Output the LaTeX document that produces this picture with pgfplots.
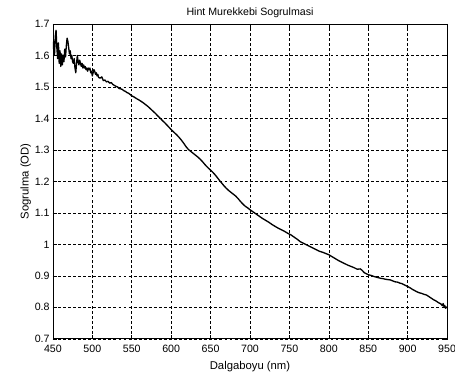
\documentclass[border=0pt]{standalone}
\usepackage{pgfplots}
\pgfplotsset{compat=1.18}
\usepackage{fontspec}
\setmainfont{Liberation Sans}
\pgfplotstableread{
x y
450 1.620
451 1.645
452 1.600
453 1.660
454 1.680
455 1.625
456 1.590
457 1.640
458 1.575
459 1.615
460 1.565
461 1.605
462 1.570
463 1.600
464 1.580
465 1.620
466 1.595
467 1.630
468 1.655
469 1.645
470 1.625
471 1.605
472 1.615
473 1.590
474 1.600
475 1.580
476 1.575
477 1.590
478 1.560
479 1.545
480 1.575
481 1.600
482 1.580
483 1.570
484 1.585
485 1.575
486 1.565
487 1.575
488 1.560
489 1.570
490 1.560
491 1.565
492 1.555
493 1.560
494 1.550
495 1.560
496 1.555
497 1.560
498 1.545
499 1.550
500 1.535
501 1.545
502 1.555
503 1.550
504 1.540
505 1.545
506 1.535
507 1.540
508 1.530
510 1.528
512 1.532
514 1.520
516 1.522
518 1.516
520 1.518
522 1.512
524 1.514
526 1.508
528 1.505
530 1.502
532 1.500
534 1.495
536 1.494
538 1.492
540 1.488
542 1.486
544 1.482
546 1.480
548 1.476
550 1.472
553 1.468
556 1.463
559 1.459
562 1.454
565 1.449
568 1.443
571 1.437
574 1.430
577 1.423
580 1.416
583 1.408
586 1.401
589 1.393
592 1.386
595 1.378
598 1.370
601 1.362
604 1.355
607 1.348
610 1.340
613 1.331
616 1.321
619 1.310
622 1.301
625 1.295
628 1.289
631 1.283
634 1.277
637 1.270
640 1.262
643 1.253
646 1.245
649 1.238
652 1.231
655 1.223
658 1.214
661 1.204
664 1.195
667 1.186
670 1.178
673 1.171
676 1.165
679 1.159
682 1.153
685 1.145
688 1.136
691 1.128
694 1.121
697 1.116
700 1.110
704 1.103
708 1.096
712 1.089
716 1.082
720 1.076
724 1.070
728 1.063
732 1.057
736 1.051
740 1.046
744 1.041
748 1.035
752 1.030
756 1.023
760 1.016
764 1.008
768 1.003
772 0.998
776 0.993
780 0.988
784 0.983
788 0.978
792 0.975
796 0.971
800 0.967
804 0.961
808 0.955
812 0.949
816 0.944
820 0.939
824 0.934
828 0.930
832 0.926
836 0.921
840 0.922
842 0.918
845 0.910
848 0.906
851 0.903
854 0.901
857 0.898
860 0.896
863 0.894
866 0.892
869 0.891
872 0.889
875 0.888
878 0.887
881 0.884
884 0.881
887 0.880
890 0.877
893 0.875
896 0.871
900 0.866
903 0.862
906 0.857
909 0.853
912 0.849
915 0.846
918 0.844
921 0.841
924 0.839
927 0.834
930 0.829
933 0.824
936 0.820
939 0.815
942 0.811
944 0.805
945 0.812
946 0.803
947 0.806
948 0.797
949 0.801
950 0.798
}\spectrum
\begin{document}
\begin{tikzpicture}
\begin{axis}[
  name=ax,
  scale only axis,
  width=10.43cm, height=8.33cm,
  xmin=450, xmax=950, ymin=0.7, ymax=1.7,
  xtick={450,500,...,950},
  ytick={0.7,0.8,...,1.71},
  tick align=inside,
  major tick length=0.1cm,
  tick style={black, line width=0.4pt},
  axis line style={black, line width=0.5pt},
  grid=major,
  major grid style={black, line width=0.4pt, dash pattern=on 2.2pt off 1.6pt},
  ticklabel style={font=\fontsize{8}{9}\selectfont},
  /pgf/number format/assume math mode=true,
  xticklabel style={yshift=-1pt},
  yticklabel style={xshift=1pt},
  title={Hint Murekkebi Sogrulmasi},
  title style={font=\fontsize{8}{9}\selectfont, yshift=-5pt},
  xlabel={Dalgaboyu (nm)},
  ylabel={Sogrulma (OD)},
  label style={font=\fontsize{8.5}{10}\selectfont},
  xlabel style={yshift=0pt},
  ylabel style={yshift=-4pt},
]
\addplot[black, line width=1.0pt, line join=round] table[x=x, y=y] {\spectrum};
\end{axis}
\pgfresetboundingbox
\useasboundingbox ([xshift=-1.40cm,yshift=-0.95cm]ax.south west) rectangle ([xshift=0.21cm,yshift=0.635cm]ax.north east);
\end{tikzpicture}
\end{document}
